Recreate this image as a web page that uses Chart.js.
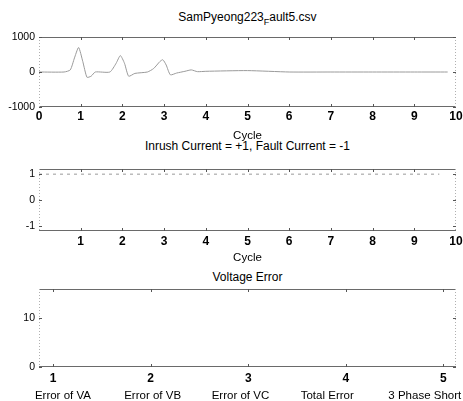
<!DOCTYPE html>
<html><head><meta charset="utf-8">
<script src="https://cdn.jsdelivr.net/npm/chart.js@4"></script>
<style>
html,body{margin:0;padding:0;background:#fff;}
#wrap{position:relative;width:463px;height:401px;overflow:hidden;font-family:"Liberation Sans",Arial,sans-serif;}
canvas{position:absolute;left:0;}
.t{position:absolute;left:39px;width:417px;text-align:center;font-size:12px;color:#000;line-height:14px;white-space:nowrap;}
.t sub{font-size:9px;vertical-align:-4px;line-height:0;}
</style></head><body>
<div id="wrap">
<div class="t" style="top:10px">SamPyeong223<sub>F</sub>ault5.csv</div>
<div class="t" style="top:139px">Inrush Current = +1, Fault Current = -1</div>
<div class="t" style="top:270px">Voltage Error</div>
<canvas id="c1" style="top:28px;width:463px;height:120px" width="463" height="120"></canvas>
<canvas id="c2" style="top:160px;width:463px;height:108px" width="463" height="108"></canvas>
<canvas id="c3" style="top:280px;width:463px;height:121px" width="463" height="121"></canvas>
</div>
<script>
// ---- data ----
const cycleTop   = [0, 0.6, 0.75, 0.85, 0.95, 1.05, 1.15, 1.25, 1.35, 1.7, 1.85, 1.95, 2.05, 2.15, 2.3, 2.6, 2.75, 2.9, 2.97, 3.05, 3.15, 3.3, 3.5, 3.65, 3.8, 4, 5, 6, 7, 8, 9, 9.8];
const currentTop = [0, 0, 60, 400, 700, 300, -150, -120, 0, 0, 250, 470, 250, -120, -40, 0, 100, 300, 350, 200, -80, -30, 20, 60, 10, 20, 40, 0, 0, 0, 0, 0];
const cycleMid   = [0, 1, 2, 3, 4, 5, 6, 7, 8, 9, 9.6];
const classMid   = [1, 1, 1, 1, 1, 1, 1, 1, 1, 1, 1];
const categories = ["Error of VA", "Error of VB", "Error of VC", "Total Error", "3 Phase Short"];
const catIndex   = [1, 2, 3, 4, 5];
const voltageErr = [0, 0, 0, 0, 0];
const yTicks1 = [-1000, 0, 1000];
const xTicks1 = [0, 1, 2, 3, 4, 5, 6, 7, 8, 9, 10];
const yTicks2 = [-1, 0, 1];
const xTicks2 = [1, 2, 3, 4, 5, 6, 7, 8, 9, 10];
const yTicks3 = [0, 10];
const xTicks3 = [1, 2, 3, 4, 5];

// ---- helpers ----
const FONT = '"Liberation Sans", Arial, sans-serif';
const setTicks = arr => s => { s.ticks = arr.map(v => ({value: v})); };
const plain = v => String(v);
const noPad = s => { s.paddingLeft = 0; s.paddingRight = 0; s.paddingTop = 0; s.paddingBottom = 0; };

const framePlugin = {
  id: 'frame',
  afterDraw(c) {
    const {ctx, chartArea: a} = c;
    ctx.save();
    ctx.lineWidth = 1;
    ctx.strokeStyle = '#6a6a6a';
    ctx.beginPath();
    ctx.moveTo(a.left, a.top + 0.5); ctx.lineTo(a.right, a.top + 0.5);
    ctx.moveTo(a.left, a.bottom - 0.5); ctx.lineTo(a.right, a.bottom - 0.5);
    ctx.stroke();
    ctx.strokeStyle = '#b0b0b0';
    ctx.setLineDash([1, 2]);
    ctx.beginPath();
    ctx.moveTo(a.left + 0.5, a.top); ctx.lineTo(a.left + 0.5, a.bottom);
    ctx.moveTo(a.right - 0.5, a.top); ctx.lineTo(a.right - 0.5, a.bottom);
    ctx.stroke();
    ctx.setLineDash([]);
    ctx.strokeStyle = '#555';
    const xs = c.scales.x, ys = c.scales.y;
    ctx.beginPath();
    xs.ticks.forEach(t => {
      const px = Math.round(xs.getPixelForValue(t.value)) + 0.5;
      if (px <= a.left + 1 || px >= a.right - 1) return;
      ctx.moveTo(px, a.top); ctx.lineTo(px, a.top + 3);
      ctx.moveTo(px, a.bottom); ctx.lineTo(px, a.bottom - 3);
    });
    ys.ticks.forEach(t => {
      const py = Math.round(ys.getPixelForValue(t.value)) + 0.5;
      ctx.moveTo(a.left, py); ctx.lineTo(a.left + 3, py);
      ctx.moveTo(a.right, py); ctx.lineTo(a.right - 3, py);
    });
    ctx.stroke();
    ctx.restore();
  }
};

function yAxis(min, max, ticks) {
  return {
    type: 'linear', position: 'left', min, max,
    afterBuildTicks: setTicks(ticks),
    afterFit: s => { s.width = 39; noPad(s); },
    grid: {display: false, drawTicks: false}, border: {display: false},
    ticks: {color: '#000', padding: 4, font: {family: FONT, size: 10.5}, callback: plain}
  };
}
function xAxis(min, max, ticks, h, pad, title, tpad) {
  const ax = {
    type: 'linear', position: 'bottom', min, max,
    afterBuildTicks: setTicks(ticks),
    afterFit: s => { s.height = h; noPad(s); },
    grid: {display: false, drawTicks: false}, border: {display: false},
    ticks: {color: '#000', padding: pad, autoSkip: false, maxRotation: 0,
            font: {family: FONT, size: 12, weight: 'bold'}, callback: plain}
  };
  if (title) ax.title = {display: true, text: title, color: '#000', padding: {top: 0, bottom: tpad},
                         font: {family: FONT, size: 11.5}};
  return ax;
}
const common = {
  responsive: false, animation: false, devicePixelRatio: 1,
  plugins: {legend: {display: false}, tooltip: {enabled: false}}
};

// ---- chart 1 ----
new Chart(document.getElementById('c1'), {
  type: 'line',
  data: {datasets: [{
    data: cycleTop.map((x, i) => ({x, y: currentTop[i]})),
    borderColor: '#9a9a9a', borderWidth: 1, pointRadius: 0, tension: 0.2, fill: false
  }]},
  options: Object.assign({}, common, {
    layout: {padding: {top: 9, right: 7, left: 0, bottom: 0}},
    scales: {x: xAxis(0, 10, xTicks1, 41, 2, 'Cycle', 5), y: yAxis(-1000, 1000, yTicks1)}
  }),
  plugins: [framePlugin]
});

// ---- chart 2 ----
new Chart(document.getElementById('c2'), {
  type: 'line',
  data: {datasets: [{
    data: cycleMid.map((x, i) => ({x, y: classMid[i]})),
    borderColor: '#9a9a9a', borderWidth: 1, borderDash: [3, 4], pointRadius: 0, fill: false
  }]},
  options: Object.assign({}, common, {
    layout: {padding: {top: 9, right: 7, left: 0, bottom: 0}},
    scales: {x: xAxis(0, 10, xTicks2, 37, 3, 'Cycle', 3), y: yAxis(-1.2, 1.2, yTicks2)}
  }),
  plugins: [framePlugin]
});

// ---- chart 3 ----
new Chart(document.getElementById('c3'), {
  type: 'line',
  data: {datasets: [{
    data: catIndex.map((x, i) => ({x, y: voltageErr[i]})),
    borderColor: '#777', borderWidth: 1, pointRadius: 0, fill: false
  }]},
  options: Object.assign({}, common, {
    layout: {padding: {top: 9, right: 7, left: 0, bottom: 0}},
    scales: {
      x: xAxis(0.855, 5.13, xTicks3, 20, 4, null, 0),
      names: {
        type: 'linear', position: 'bottom', min: 0.855, max: 5.13,
        afterBuildTicks: s => { s.ticks = [1.1, 2.02, 2.92, 3.81, 4.81].map(v => ({value: v})); },
        afterFit: s => { s.height = 14; noPad(s); },
        grid: {display: false, drawTicks: false}, border: {display: false},
        ticks: {color: '#000', padding: 2, autoSkip: false, maxRotation: 0,
                font: {family: FONT, size: 11.5},
                callback: (v, i) => categories[i]}
      },
      y: yAxis(0, 16, yTicks3)
    }
  }),
  plugins: [framePlugin]
});
</script>
</body></html>
